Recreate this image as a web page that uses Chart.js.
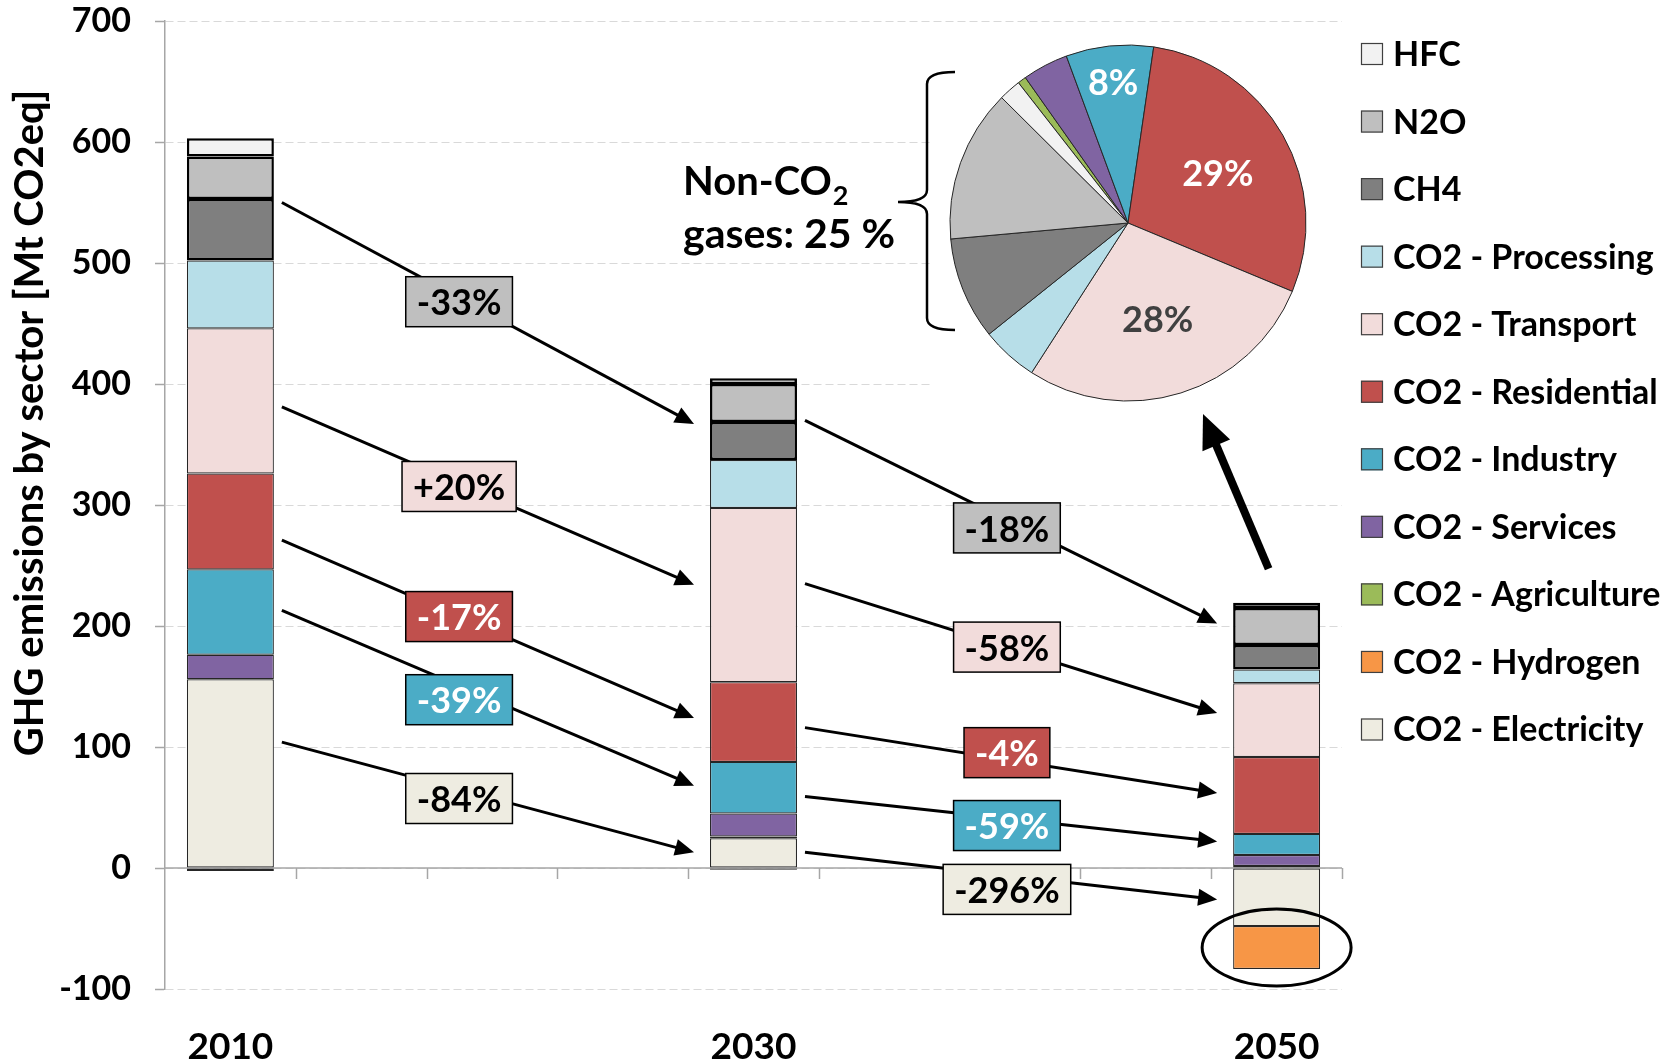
<!DOCTYPE html>
<html>
<head>
<meta charset="utf-8">
<script src="https://cdn.jsdelivr.net/npm/chart.js@4.4.1/dist/chart.umd.min.js"></script>
<style>
  html, body { margin: 0; padding: 0; background: #fff; }
  #wrap { position: relative; width: 1670px; height: 1062px; overflow: hidden; }
  #bars { position: absolute; left: 0; top: 0; }
  #pie { position: absolute; left: 948px; top: 43px; }
</style>
</head>
<body>
<div id="wrap">
  <canvas id="bars" width="1670" height="1062"></canvas>
  <canvas id="pie" width="360" height="360"></canvas>
</div>
<script>
// ---- data -------------------------------------------------------------
// x slots every five years; only the scenario years carry bars and labels
const slotLabels = ['2010', '2015', '2020', '2025', '2030', '2035', '2040', '2045', '2050'];
const shownYears = ['2010', '2030', '2050'];
const yTicks = [-100, 0, 100, 200, 300, 400, 500, 600, 700];

// GHG emissions by sector [Mt CO2eq] for 2010, 2030, 2050
const electricity = [156, 24.5, -48];
const hydrogen    = [0, -1.5, -35.5];
const agriculture = [-2.5, 1.5, 1.7];
const services    = [20.3, 19, 9.1];
const industry    = [70.5, 42.7, 17.4];
const residential = [79.2, 65.9, 63.5];
const transport   = [120, 144, 61];
const processing  = [56, 39.6, 11.3];
const ch4         = [50.8, 31.4, 20.4];
const n2o         = [35.2, 31.4, 30.4];
const hfc         = [15, 4.7, 4.4];

// stacking order, bottom to top
const seriesNames = ['CO2 - Electricity', 'CO2 - Hydrogen', 'CO2 - Agriculture', 'CO2 - Services',
  'CO2 - Industry', 'CO2 - Residential', 'CO2 - Transport', 'CO2 - Processing', 'CH4', 'N2O', 'HFC'];
const seriesValues = [electricity, hydrogen, agriculture, services, industry, residential,
  transport, processing, ch4, n2o, hfc];
const nonCO2Names = ['CH4', 'N2O', 'HFC'];

// ---- styles -----------------------------------------------------------
const FONT = 'Lato, "Open Sans", "DejaVu Sans", sans-serif';
const seriesColors = {
  'CO2 - Electricity': '#eeece1', 'CO2 - Hydrogen': '#f79646', 'CO2 - Agriculture': '#9bbb59',
  'CO2 - Services': '#8064a2', 'CO2 - Industry': '#4bacc6', 'CO2 - Residential': '#c0504d',
  'CO2 - Transport': '#f2dcdb', 'CO2 - Processing': '#b7dee8', 'CH4': '#7f7f7f', 'N2O': '#bfbfbf', 'HFC': '#f2f2f2'
};
const AXIS_COLOR = '#a6a6a6';
const GRID_COLOR = '#d9d9d9';

// change arrows between scenario years (values are the y levels of tail and head)
const groupSeries = {
  nonco2: [ch4, n2o, hfc], transport: [transport], residential: [residential],
  industry: [industry], electricity: [electricity]
};
const groupBox = {
  nonco2: { fill: '#bfbfbf', text: '#000' }, transport: { fill: '#f2dcdb', text: '#000' },
  residential: { fill: '#c0504d', text: '#fff' }, industry: { fill: '#4bacc6', text: '#fff' },
  electricity: { fill: '#eeece1', text: '#000' }
};
const changeArrows = [
  { group: 'nonco2',      from: 0, to: 1, tailY: 550, headY: 367, t: 0.43, dy: 4 },
  { group: 'transport',   from: 0, to: 1, tailY: 381, headY: 234, t: 0.43, dy: 3 },
  { group: 'residential', from: 0, to: 1, tailY: 271, headY: 124, t: 0.43, dy: 0 },
  { group: 'industry',    from: 0, to: 1, tailY: 213, headY: 68,  t: 0.43, dy: 14 },
  { group: 'electricity', from: 0, to: 1, tailY: 104, headY: 13,  t: 0.43, dy: 9 },
  { group: 'nonco2',      from: 1, to: 2, tailY: 370, headY: 202, t: 0.49, dy: 8 },
  { group: 'transport',   from: 1, to: 2, tailY: 235, headY: 128, t: 0.49, dy: 0 },
  { group: 'residential', from: 1, to: 2, tailY: 116, headY: 62,  t: 0.49, dy: -7 },
  { group: 'industry',    from: 1, to: 2, tailY: 59,  headY: 22,  t: 0.49, dy: 7 },
  { group: 'electricity', from: 1, to: 2, tailY: 13,  headY: -26, t: 0.49, dy: 14 }
];

// ---- helpers ----------------------------------------------------------
const slotOf = yr => slotLabels.indexOf(yr);
const sumAt = (arrs, i) => arrs.reduce((s, a) => s + a[i], 0);
function pctChange(group, a, b) {
  const v0 = sumAt(groupSeries[group], a), v1 = sumAt(groupSeries[group], b);
  const p = Math.round((v1 - v0) / Math.abs(v0) * 100);
  return (p > 0 ? '+' : '') + p + '%';
}
function drawArrow(ctx, x1, y1, x2, y2, w, headLen, headW) {
  const ang = Math.atan2(y2 - y1, x2 - x1);
  const c = Math.cos(ang), s = Math.sin(ang);
  const bx = x2 - headLen * c, by = y2 - headLen * s;
  ctx.lineWidth = w;
  ctx.lineCap = 'butt';
  ctx.beginPath(); ctx.moveTo(x1, y1); ctx.lineTo(bx + c, by + s); ctx.stroke();
  ctx.beginPath();
  ctx.moveTo(x2, y2);
  ctx.lineTo(bx + headW / 2 * s, by - headW / 2 * c);
  ctx.lineTo(bx - headW / 2 * s, by + headW / 2 * c);
  ctx.closePath(); ctx.fill();
}

const datasets = seriesNames.map((name, k) => {
  const nonCO2 = nonCO2Names.includes(name);
  return {
    label: name,
    data: slotLabels.map(l => { const i = shownYears.indexOf(l); return i < 0 ? null : seriesValues[k][i]; }),
    backgroundColor: seriesColors[name],
    borderColor: nonCO2 ? '#000' : '#262626',
    borderWidth: nonCO2 ? 2.5 : 1.2,
    borderSkipped: false,
    categoryPercentage: 1,
    barPercentage: 0.665
  };
});

// 2050 positive shares for the inset pie
const last = shownYears.length - 1;
const pieNames = seriesNames.filter((n, k) => seriesValues[k][last] > 0);
const pieValues = pieNames.map(n => seriesValues[seriesNames.indexOf(n)][last]);
const pieTotal = pieValues.reduce((a, b) => a + b, 0);
const nonCO2Share = Math.round(nonCO2Names.reduce((s, n) => s + seriesValues[seriesNames.indexOf(n)][last], 0) / pieTotal * 100);

// ---- annotation plugin for the bar chart --------------------------------
const PIE_BACKDROP = { left: 930, top: 28, bottom: 402 };
const decor = {
  id: 'decor',
  beforeDatasetsDraw(chart) {
    const { ctx, chartArea: a, scales: { x, y } } = chart;
    ctx.save();
    ctx.fillStyle = '#fff';
    ctx.fillRect(PIE_BACKDROP.left, PIE_BACKDROP.top, a.right - PIE_BACKDROP.left + 1, PIE_BACKDROP.bottom - PIE_BACKDROP.top);
    // horizontal axis on the zero line with category tick marks
    const y0 = y.getPixelForValue(0);
    const step = (a.right - a.left) / slotLabels.length;
    ctx.strokeStyle = AXIS_COLOR;
    ctx.lineWidth = 1.5;
    ctx.beginPath();
    ctx.moveTo(a.left, y0); ctx.lineTo(a.right, y0);
    for (let i = 1; i <= slotLabels.length; i++) {
      const px = Math.round(a.left + i * step) + 0.5;
      ctx.moveTo(px, y0); ctx.lineTo(px, y0 + 11);
    }
    ctx.stroke();
    ctx.restore();
  },
  afterDatasetsDraw(chart) {
    const { ctx, scales: { y } } = chart;
    const bar = (yr) => chart.getDatasetMeta(0).data[slotOf(shownYears[yr])];
    ctx.save();
    ctx.strokeStyle = '#000';
    ctx.fillStyle = '#000';
    // change arrows
    const boxes = [];
    changeArrows.forEach(ar => {
      const b0 = bar(ar.from), b1 = bar(ar.to);
      const x1 = b0.x + b0.width / 2 + 8, y1 = y.getPixelForValue(ar.tailY);
      const x2 = b1.x - b1.width / 2 - 16, y2 = y.getPixelForValue(ar.headY);
      ctx.fillStyle = '#000';
      drawArrow(ctx, x1, y1, x2, y2, 3, 19, 17);
      boxes.push({ ar, cx: x1 + ar.t * (x2 - x1), cy: y1 + ar.t * (y2 - y1) + ar.dy });
    });
    // change labels
    ctx.font = 'bold 36px ' + FONT;
    ctx.textAlign = 'center';
    ctx.textBaseline = 'middle';
    boxes.forEach(bx => {
      const txt = pctChange(bx.ar.group, bx.ar.from, bx.ar.to);
      const w = ctx.measureText(txt).width + 22, h = 50;
      const st = groupBox[bx.ar.group];
      ctx.fillStyle = st.fill;
      ctx.fillRect(bx.cx - w / 2, bx.cy - h / 2, w, h);
      ctx.lineWidth = 1.5;
      ctx.strokeStyle = '#000';
      ctx.strokeRect(bx.cx - w / 2, bx.cy - h / 2, w, h);
      ctx.fillStyle = st.text;
      ctx.fillText(txt, bx.cx, bx.cy + 2);
    });
    // ellipse around the negative hydrogen block of the last year
    const h = chart.getDatasetMeta(seriesNames.indexOf('CO2 - Hydrogen')).data[slotOf(shownYears[last])];
    ctx.strokeStyle = '#000';
    ctx.lineWidth = 3;
    ctx.beginPath();
    ctx.ellipse(h.x, (h.y + h.base) / 2, h.width / 2 + 31, Math.abs(h.y - h.base) / 2 + 17, 0, 0, Math.PI * 2);
    ctx.stroke();
    // arrow from the last bar up to the pie
    const top = chart.getDatasetMeta(seriesNames.length - 1).data[slotOf(shownYears[last])];
    ctx.fillStyle = '#000';
    drawArrow(ctx, top.x - 8, top.y - 34, 1203, 414, 8, 34, 30);
    ctx.restore();
  },
  afterDraw(chart) {
    const { ctx } = chart;
    ctx.save();
    // y axis title
    ctx.translate(30, 423);
    ctx.rotate(-Math.PI / 2);
    ctx.font = 'bold 40px ' + FONT;
    ctx.fillStyle = '#000';
    ctx.textAlign = 'center';
    ctx.textBaseline = 'middle';
    ctx.fillText('GHG emissions by sector [Mt CO2eq]', 0, 0);
    ctx.restore();

    // legend, top of stack first
    ctx.save();
    ctx.font = 'bold 34px ' + FONT;
    ctx.textBaseline = 'middle';
    ctx.textAlign = 'left';
    seriesNames.slice().reverse().forEach((name, i) => {
      const cy = 54 + i * 67.55;
      ctx.fillStyle = seriesColors[name];
      ctx.fillRect(1361, cy - 11, 22, 22);
      ctx.strokeStyle = '#404040';
      ctx.lineWidth = 1.2;
      ctx.strokeRect(1361.5, cy - 10.5, 21, 21);
      ctx.fillStyle = '#000';
      ctx.fillText(name, 1393, cy + 1);
    });
    ctx.restore();

    // non-CO2 bracket and caption
    ctx.save();
    ctx.strokeStyle = '#000';
    ctx.lineWidth = 2.5;
    ctx.beginPath();
    ctx.moveTo(955, 72);
    ctx.quadraticCurveTo(927, 72, 927, 84);
    ctx.lineTo(927, 190);
    ctx.quadraticCurveTo(927, 202, 898, 202);
    ctx.quadraticCurveTo(927, 202, 927, 214);
    ctx.lineTo(927, 318);
    ctx.quadraticCurveTo(927, 330, 955, 330);
    ctx.stroke();
    ctx.fillStyle = '#000';
    ctx.textAlign = 'left';
    ctx.textBaseline = 'alphabetic';
    ctx.font = 'bold 40px ' + FONT;
    ctx.fillText('Non-CO', 683, 195);
    const wNon = ctx.measureText('Non-CO').width;
    ctx.font = 'bold 27px ' + FONT;
    ctx.fillText('2', 683 + wNon + 1, 205);
    ctx.font = 'bold 41px ' + FONT;
    ctx.fillText('gases: ' + nonCO2Share + ' %', 683, 248);
    ctx.restore();
  }
};

new Chart(document.getElementById('bars'), {
  type: 'bar',
  data: { labels: slotLabels, datasets },
  options: {
    responsive: false,
    animation: false,
    layout: { padding: { top: 21, right: 328, bottom: 0, left: 0 } },
    plugins: { legend: { display: false }, tooltip: { enabled: false } },
    scales: {
      x: {
        stacked: true,
        grid: { display: false, drawTicks: false },
        border: { display: false },
        ticks: {
          autoSkip: false, maxRotation: 0, padding: 36, color: '#000',
          font: { family: FONT, size: 37, weight: 'bold' },
          callback: (v, i) => shownYears.includes(slotLabels[i]) ? slotLabels[i] : ''
        },
        afterFit(s) { s.height = 73; }
      },
      y: {
        stacked: true,
        min: yTicks[0],
        max: yTicks[yTicks.length - 1],
        afterBuildTicks(s) { s.ticks = yTicks.map(v => ({ value: v })); },
        ticks: { padding: 24, color: '#000', font: { family: FONT, size: 34, weight: 'bold' } },
        grid: { color: GRID_COLOR, lineWidth: 1, tickLength: 10, tickColor: AXIS_COLOR, tickWidth: 1.5 },
        border: { display: true, color: AXIS_COLOR, width: 1.5, dash: [8, 4] },
        afterFit(s) { s.width = 165; s.paddingTop = 0; s.paddingBottom = 0; }
      }
    }
  },
  plugins: [decor]
});

// ---- inset pie of 2050 shares --------------------------------------------
const pieLabelSpec = {
  'CO2 - Industry': { r: 0.8, color: '#fff' },
  'CO2 - Residential': { r: 0.58, color: '#fff' },
  'CO2 - Transport': { r: 0.56, color: '#404040' }
};
const pieLabels = {
  id: 'pieLabels',
  afterDatasetsDraw(chart) {
    const { ctx } = chart;
    const meta = chart.getDatasetMeta(0);
    ctx.save();
    ctx.font = 'bold 36px ' + FONT;
    ctx.textAlign = 'center';
    ctx.textBaseline = 'middle';
    meta.data.forEach((arc, i) => {
      const spec = pieLabelSpec[pieNames[i]];
      if (!spec) return;
      const mid = (arc.startAngle + arc.endAngle) / 2;
      const r = arc.outerRadius * spec.r;
      ctx.fillStyle = spec.color;
      ctx.fillText(Math.round(pieValues[i] / pieTotal * 100) + '%', arc.x + r * Math.cos(mid), arc.y + r * Math.sin(mid) + 2);
    });
    ctx.restore();
  }
};
new Chart(document.getElementById('pie'), {
  type: 'pie',
  data: {
    labels: pieNames,
    datasets: [{ data: pieValues, backgroundColor: pieNames.map(n => seriesColors[n]), borderColor: '#262626', borderWidth: 1 }]
  },
  options: {
    responsive: false,
    animation: false,
    rotation: -38,
    radius: 178,
    layout: { padding: 0 },
    plugins: { legend: { display: false }, tooltip: { enabled: false } }
  },
  plugins: [pieLabels]
});
</script>
</body>
</html>
